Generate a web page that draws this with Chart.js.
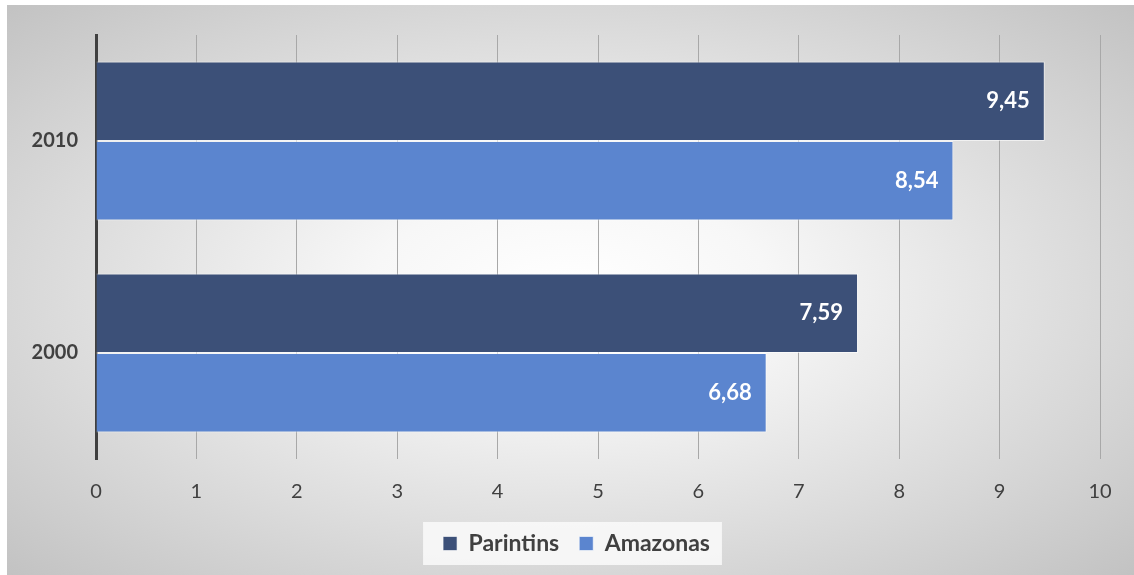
<!DOCTYPE html>
<html lang="pt">
<head>
    <meta charset="UTF-8">
    <title>Parintins x Amazonas</title>
    <script src="https://cdn.jsdelivr.net/npm/chart.js"></script>
    <style>
        html, body {
            margin: 0;
            padding: 0;
            background: #ffffff;
        }
        .wrap {
            position: absolute;
            left: 7px;
            top: 5px;
            width: 1127px;
            height: 570px;
        }
    </style>
</head>
<body>
    <div class="wrap">
        <canvas id="chart" width="1127" height="570"></canvas>
    </div>

    <script>
        const years = ["2010", "2000"];
        const parintins = [9.45, 7.59];
        const amazonas = [8.54, 6.68];
        const xTicks = [0, 1, 2, 3, 4, 5, 6, 7, 8, 9, 10];

        const FONT = "Lato, 'Open Sans', sans-serif";

        // radial grey backdrop like the office chart style
        const backdrop = {
            id: "backdrop",
            afterLayout(chart) {
                // legend sits a little right of the plot centre in the original
                if (chart.legend) {
                    chart.legend.left += 23;
                    chart.legend.right += 23;
                }
            },
            beforeDraw(chart) {
                const ctx = chart.ctx;
                const w = chart.width, h = chart.height;
                ctx.save();
                ctx.translate(w / 2, h / 2);
                ctx.scale(1, h / w);
                const r = (w / 2) * 1.42;
                const g = ctx.createRadialGradient(0, 0, 0, 0, 0, r);
                g.addColorStop(0, "#ffffff");
                g.addColorStop(0.25, "#f7f7f7");
                g.addColorStop(1, "#c2c2c2");
                ctx.fillStyle = g;
                ctx.fillRect(-w / 2, -w / 2, w, w);
                ctx.restore();

                // light box behind legend
                const boxes = chart.legend && chart.legend.legendHitBoxes;
                if (boxes && boxes.length) {
                    const l = Math.min(...boxes.map(b => b.left)) - 20;
                    const rr = Math.max(...boxes.map(b => b.left + b.width)) + 12;
                    const t = boxes[0].top - 10;
                    const bh = boxes[0].height + 20;
                    ctx.save();
                    ctx.fillStyle = "rgba(250,250,250,0.85)";
                    ctx.fillRect(l, t, rr - l, bh);
                    ctx.restore();
                }
            }
        };

        // value labels inside the bar ends
        const barLabels = {
            id: "barLabels",
            afterDatasetsDraw(chart) {
                const ctx = chart.ctx;
                ctx.save();
                ctx.font = "bold 22px " + FONT;
                ctx.fillStyle = "#ffffff";
                ctx.textAlign = "right";
                ctx.textBaseline = "middle";
                chart.data.datasets.forEach((ds, i) => {
                    chart.getDatasetMeta(i).data.forEach((bar, j) => {
                        const txt = ds.data[j].toFixed(2).replace(".", ",");
                        ctx.fillText(txt, bar.x - 15, bar.y);
                    });
                });
                ctx.restore();
            }
        };

        new Chart(document.getElementById("chart"), {
            type: "bar",
            data: {
                labels: years,
                datasets: [
                    {
                        label: "Parintins",
                        data: parintins,
                        backgroundColor: "#3c5078",
                        borderColor: "rgba(255,255,255,0.6)",
                        borderWidth: 1
                    },
                    {
                        label: "Amazonas",
                        data: amazonas,
                        backgroundColor: "#5b85cf",
                        borderColor: "rgba(255,255,255,0.6)",
                        borderWidth: 1
                    }
                ]
            },
            options: {
                indexAxis: "y",
                responsive: false,
                animation: false,
                categoryPercentage: 0.75,
                barPercentage: 1.0,
                layout: {
                    padding: { left: 0, right: 34, top: 30, bottom: 10 }
                },
                plugins: {
                    legend: {
                        position: "bottom",
                        labels: {
                            boxWidth: 14,
                            boxHeight: 14,
                            padding: 20,
                            color: "#404040",
                            font: { family: FONT, size: 23, weight: "bold" }
                        }
                    },
                    tooltip: { enabled: false }
                },
                scales: {
                    x: {
                        min: 0,
                        max: 10,
                        afterBuildTicks: (s) => { s.ticks = xTicks.map(v => ({ value: v })); },
                        afterFit: (s) => { s.height = 53; },
                        grid: {
                            color: "#a8a8a8",
                            lineWidth: 1,
                            drawTicks: false
                        },
                        border: { display: false },
                        ticks: {
                            color: "#404040",
                            padding: 21,
                            font: { family: FONT, size: 20 }
                        }
                    },
                    y: {
                        afterFit: (s) => { s.width = 89; },
                        grid: { display: false, drawTicks: false },
                        border: { color: "#404040", width: 3 },
                        ticks: {
                            color: "#404040",
                            padding: 18,
                            font: { family: FONT, size: 20, weight: "bold" }
                        }
                    }
                }
            },
            plugins: [backdrop, barLabels]
        });
    </script>
</body>
</html>
